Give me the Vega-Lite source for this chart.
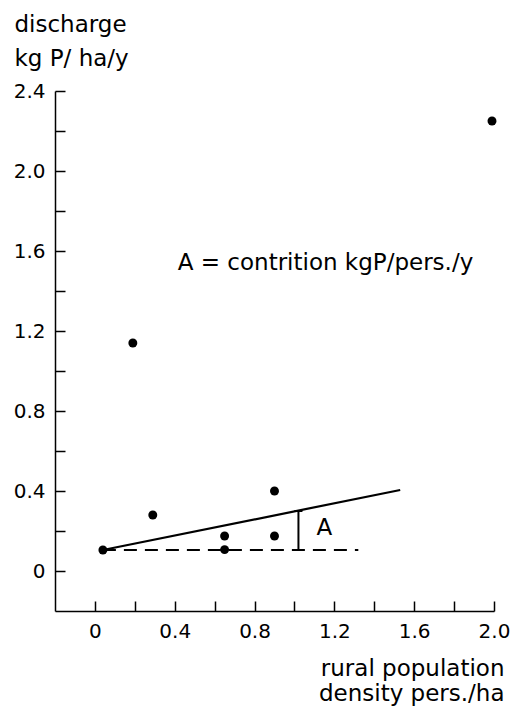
{
  "$schema": "https://vega.github.io/schema/vega-lite/v6.json",
  "width": 439,
  "height": 520,
  "autosize": {"type": "none"},
  "padding": {"left": 55, "top": 91, "right": 20, "bottom": 95},
  "background": "white",
  "config": {
    "view": {"stroke": null},
    "font": "DejaVu Sans",
    "axis": {
      "grid": false,
      "domainColor": "black",
      "domainWidth": 1.5,
      "tickColor": "black",
      "tickWidth": 1.5,
      "tickSize": -10,
      "labelPadding": 20,
      "labelFontSize": 20,
      "labelColor": "black",
      "labelFlush": false,
      "labelOverlap": false,
      "titleFontSize": 23,
      "titleFontWeight": "normal",
      "titleColor": "black"
    }
  },
  "layer": [
    {
      "data": {"values": [
        {"density": 0.04, "discharge": 0.105},
        {"density": 0.19, "discharge": 1.14},
        {"density": 0.29, "discharge": 0.28},
        {"density": 0.65, "discharge": 0.175},
        {"density": 0.65, "discharge": 0.107},
        {"density": 0.90, "discharge": 0.40},
        {"density": 0.90, "discharge": 0.175},
        {"density": 1.99, "discharge": 2.25}
      ]},
      "mark": {"type": "point", "filled": true, "color": "black", "size": 80, "opacity": 1},
      "encoding": {
        "x": {
          "field": "density", "type": "quantitative",
          "scale": {"domain": [-0.2, 2.0], "nice": false, "zero": false},
          "axis": {
            "title": ["rural population", "density pers./ha"],
            "values": [0, 0.2, 0.4, 0.6, 0.8, 1.0, 1.2, 1.4, 1.6, 1.8, 2.0],
            "labelExpr": "round(datum.value*10) % 4 == 0 ? (datum.value == 0 ? '0' : format(datum.value, '.1f')) : ''",
            "titleAlign": "right",
            "titleAnchor": "end",
            "titleX": 449,
            "titleY": 64,
            "titleBaseline": "alphabetic",
            "titleLineHeight": 25
          }
        },
        "y": {
          "field": "discharge", "type": "quantitative",
          "scale": {"domain": [-0.2, 2.4], "nice": false, "zero": false},
          "axis": {
            "title": ["discharge", "kg P/ ha/y"],
            "values": [0, 0.2, 0.4, 0.6, 0.8, 1.0, 1.2, 1.4, 1.6, 1.8, 2.0, 2.2, 2.4],
            "labelExpr": "round(datum.value*10) % 4 == 0 ? (datum.value == 0 ? '0' : format(datum.value, '.1f')) : ''",
            "titleAngle": 0,
            "titleAlign": "left",
            "titleAnchor": "start",
            "titleX": -41,
            "titleY": -60,
            "titleBaseline": "alphabetic",
            "titleLineHeight": 34
          }
        }
      }
    },
    {
      "data": {"values": [
        {"density": 0.04, "discharge": 0.105},
        {"density": 1.53, "discharge": 0.405}
      ]},
      "mark": {"type": "line", "color": "black", "strokeWidth": 2.2},
      "encoding": {
        "x": {"field": "density", "type": "quantitative"},
        "y": {"field": "discharge", "type": "quantitative"}
      }
    },
    {
      "data": {"values": [
        {"density": 0.04, "discharge": 0.105},
        {"density": 1.32, "discharge": 0.105}
      ]},
      "mark": {"type": "line", "color": "black", "strokeWidth": 2.2, "strokeDash": [13, 8]},
      "encoding": {
        "x": {"field": "density", "type": "quantitative"},
        "y": {"field": "discharge", "type": "quantitative"}
      }
    },
    {
      "data": {"values": [
        {"density": 1.02, "low": 0.105, "high": 0.30}
      ]},
      "mark": {"type": "rule", "color": "black", "strokeWidth": 2},
      "encoding": {
        "x": {"field": "density", "type": "quantitative"},
        "y": {"field": "low", "type": "quantitative"},
        "y2": {"field": "high"}
      }
    },
    {
      "data": {"values": [
        {"density": 1.02, "discharge": 0.105},
        {"density": 1.02, "discharge": 0.30}
      ]},
      "mark": {"type": "tick", "orient": "horizontal", "color": "black", "size": 8, "thickness": 2, "opacity": 1},
      "encoding": {
        "x": {"field": "density", "type": "quantitative"},
        "y": {"field": "discharge", "type": "quantitative"}
      }
    },
    {
      "data": {"values": [
        {"density": 1.11, "discharge": 0.215, "label": "A"},
        {"density": 0.415, "discharge": 1.54, "label": "A = contrition kgP/pers./y"}
      ]},
      "mark": {"type": "text", "align": "left", "baseline": "middle", "fontSize": 23, "color": "black"},
      "encoding": {
        "x": {"field": "density", "type": "quantitative"},
        "y": {"field": "discharge", "type": "quantitative"},
        "text": {"field": "label"}
      }
    }
  ]
}
